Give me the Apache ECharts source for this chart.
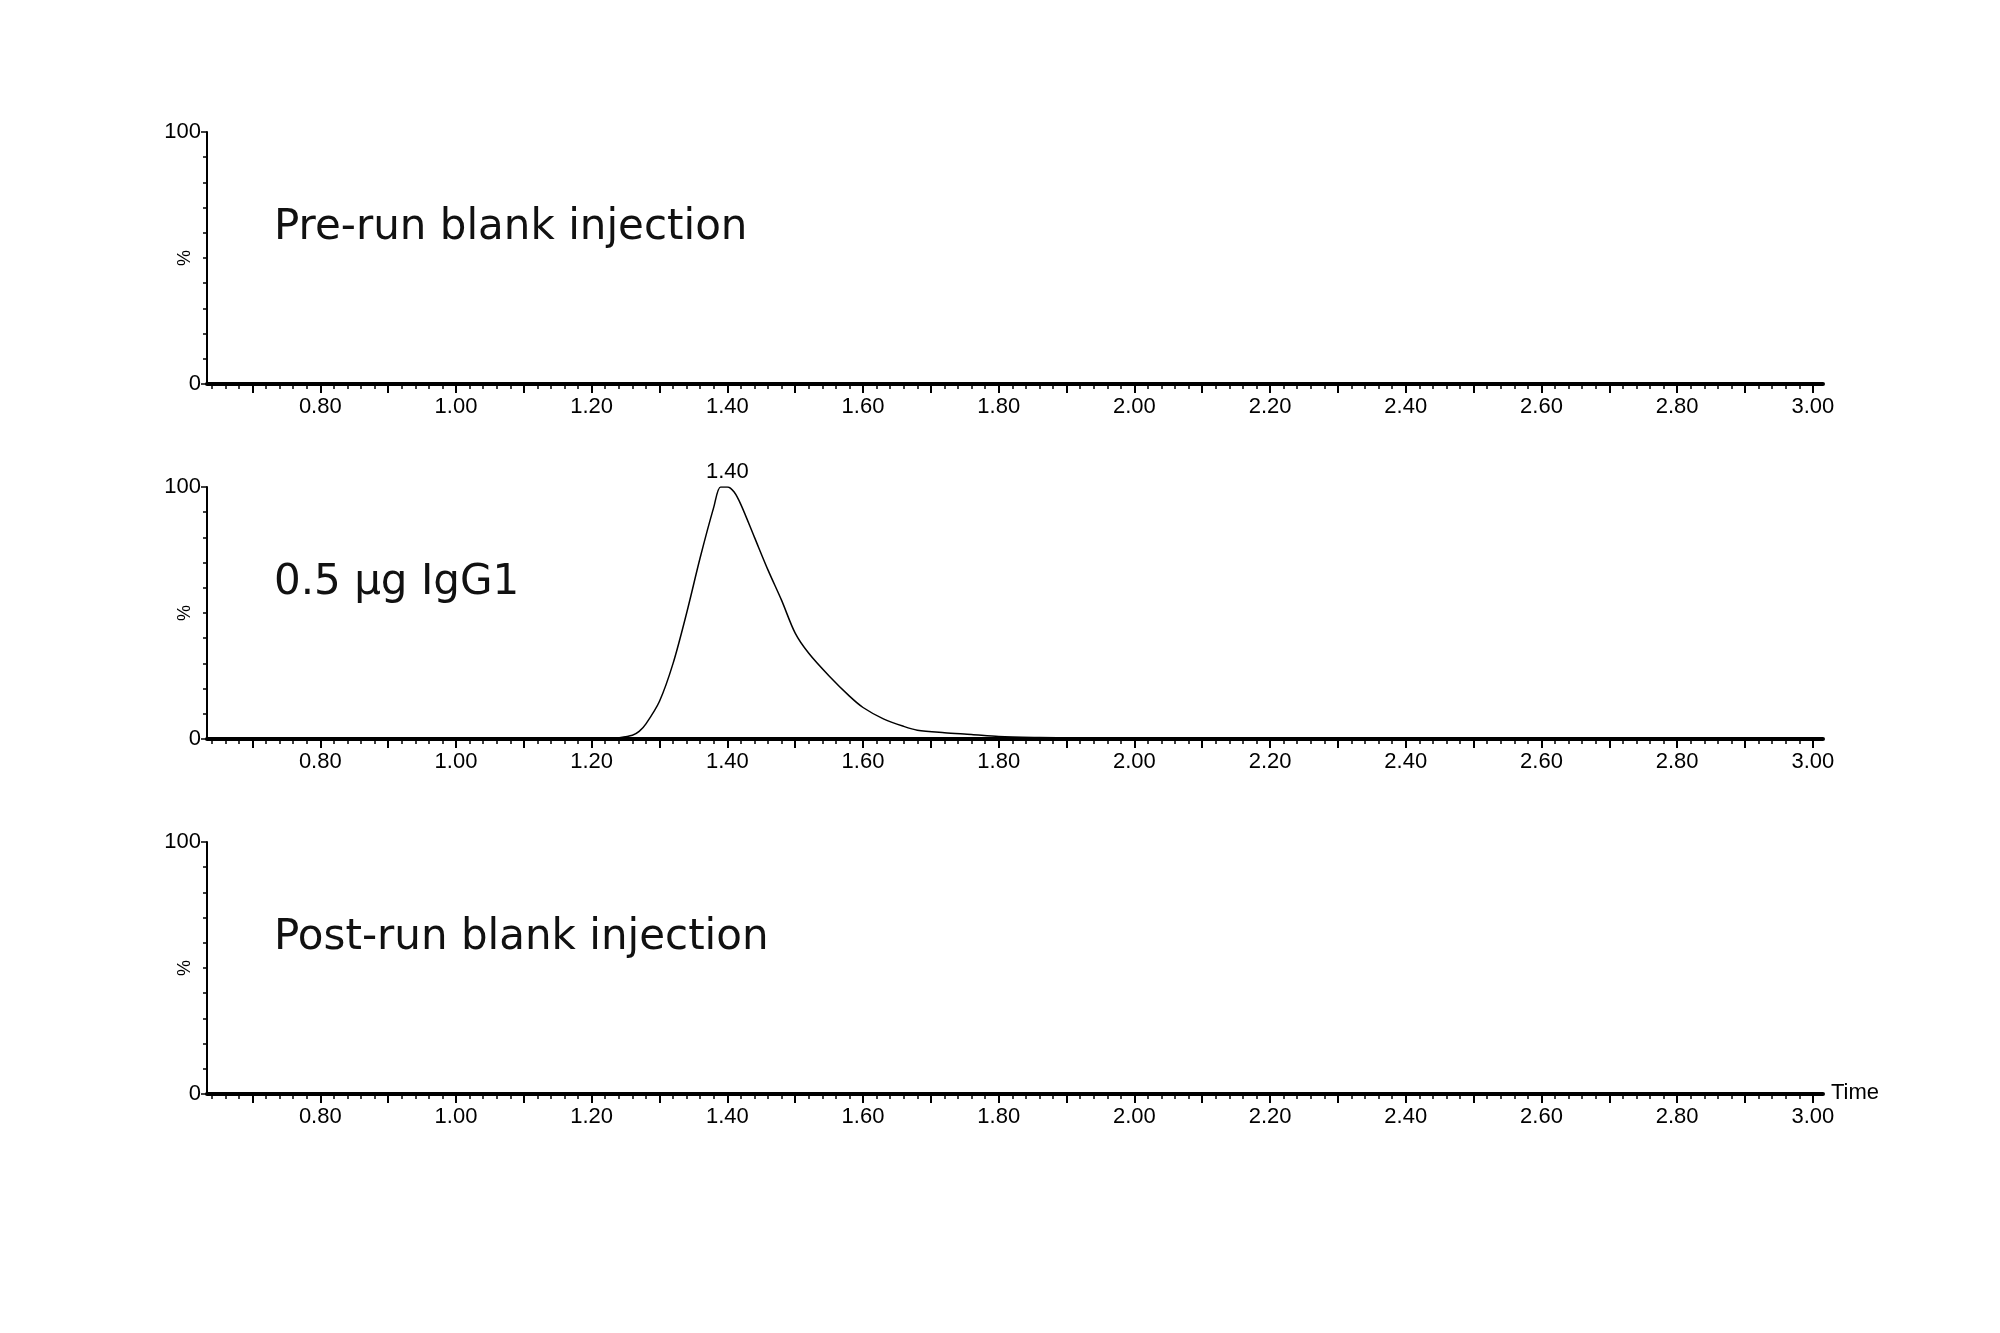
<!DOCTYPE html>
<html><head><meta charset="utf-8">
<script src="https://cdn.jsdelivr.net/npm/echarts@6/dist/echarts.min.js"></script>
<style>html,body{margin:0;background:#fff}#c{width:2000px;height:1333px}</style>
</head><body><div id="c"></div>
<script>
const panelTitles = ['Pre-run blank injection', '0.5 µg IgG1', 'Post-run blank injection'];
const peakTime = [1.22,1.24,1.26,1.27,1.28,1.30,1.32,1.34,1.36,1.38,1.39,1.40,1.41,1.42,1.44,1.46,1.48,1.50,1.52,1.55,1.58,1.60,1.63,1.66,1.68,1.72,1.76,1.80,1.86,1.92];
const peakPct  = [0,0.5,1.5,3,6,15,30,50,72,92,100,100,98,93,80,67,55,42,34,25,17,12.5,8,5,3.5,2.5,1.8,1,0.6,0.4];
const peakLabel = '1.40';
const xMin = 0.633, xMax = 3.015;
const majorTicks = [], minorTicks = [], xLabels = [];
for (let i = 7; i <= 30; i++) majorTicks.push(+(i/10).toFixed(2));
for (let i = 32; i <= 150; i++) minorTicks.push(+(i/50).toFixed(2));
for (let i = 4; i <= 15; i++) xLabels.push(+(i/5).toFixed(2));
const yMinor = [10,20,30,40,50,60,70,80,90];

const gridTop = [132, 487, 842], gridH = 252;
const grids = [], xAxes = [], yAxes = [], series = [], graphics = [];
const lab = {fontFamily:'Liberation Sans', fontSize:22, color:'#000'};
gridTop.forEach((t, p) => {
  grids.push({left:207, width:1616, top:t, height:gridH});
  xAxes.push({gridIndex:p, type:'value', min:xMin, max:xMax, position:'bottom',
    axisLine:{onZero:false, lineStyle:{color:'#000', width:4}},
    axisTick:{customValues:majorTicks, length:9, inside:false, lineStyle:{color:'#000', width:2}},
    axisLabel:{customValues:xLabels, formatter:v=>v.toFixed(2), margin:12, ...lab},
    splitLine:{show:false},
    name: p===2 ? 'Time' : '', nameLocation:'end', nameGap:8,
    nameTextStyle:{...lab, verticalAlign:'top', padding:[-12,0,0,0]}});
  xAxes.push({gridIndex:p, type:'value', min:xMin, max:xMax, position:'bottom',
    axisLine:{show:false},
    axisTick:{customValues:minorTicks, length:5, lineStyle:{color:'#000', width:1.5}},
    axisLabel:{show:false}, splitLine:{show:false}});
  yAxes.push({gridIndex:p, type:'value', min:0, max:100, position:'left',
    axisLine:{show:true, lineStyle:{color:'#000', width:2}},
    axisTick:{customValues:[0,100], length:6, lineStyle:{color:'#000', width:1.5}},
    axisLabel:{customValues:[0,100], margin:6, ...lab},
    splitLine:{show:false}});
  yAxes.push({gridIndex:p, type:'value', min:0, max:100, position:'left',
    axisLine:{show:false},
    axisTick:{customValues:yMinor, length:4, lineStyle:{color:'#000', width:1.5}},
    axisLabel:{show:false}, splitLine:{show:false}});
  graphics.push({type:'text', left:274, top:t+75,
    style:{text:panelTitles[p], font:'42px "DejaVu Sans"', fill:'#111'}});
  graphics.push({type:'text', x:185, y:t+gridH/2, rotation:Math.PI/2,
    style:{text:'%', font:'18px "Liberation Sans"', fill:'#000', align:'center', verticalAlign:'middle'}});
});
series.push({type:'line', xAxisIndex:2, yAxisIndex:2, symbol:'none', smooth:0.3,
  data: peakTime.map((x,i)=>[x, peakPct[i]]),
  lineStyle:{color:'#000', width:1.5},
  markPoint:{symbol:'circle', symbolSize:0,
    data:[{coord:[1.40,100], value:peakLabel}],
    label:{show:true, position:'top', distance:4, formatter:peakLabel, ...lab}}});
const chart = echarts.init(document.getElementById('c'));
chart.setOption({animation:false, backgroundColor:'#fff', grid:grids, xAxis:xAxes, yAxis:yAxes, series, graphic:graphics});
</script></body></html>
